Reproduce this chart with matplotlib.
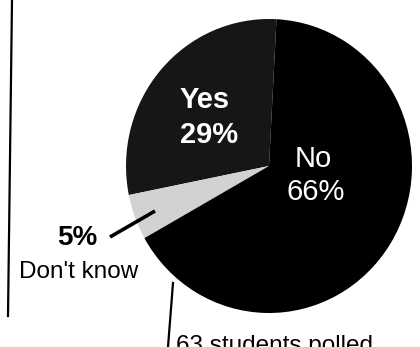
import matplotlib
matplotlib.use("Agg")
import matplotlib.pyplot as plt

plt.rcParams['font.family'] = ['Liberation Sans', 'DejaVu Sans']

# survey answers (percent)
labels = ['Yes', "Don't know", 'No']
shares = [29, 5, 66]
colors = ['#161616', '#d2d2d2', '#000000']
note = '63 students polled'

W, H = 420, 347
fig = plt.figure(figsize=(W / 100, H / 100), dpi=100)

# pie sits in its own axes, sized to the (slightly oval) disc
ax = fig.add_axes([126 / W, 1 - 313 / H, 286 / W, 294 / H])
ax.pie(shares, colors=colors, startangle=87, counterclock=True,
       wedgeprops=dict(linewidth=0))
ax.set_aspect('auto')
ax.set_xlim(-1, 1)
ax.set_ylim(-1, 1)
ax.axis('off')

# overlay in pixel coords for labels and rules
ov = fig.add_axes([0, 0, 1, 1])
ov.set_xlim(0, W)
ov.set_ylim(H, 0)
ov.axis('off')
ov.patch.set_alpha(0)

ov.plot([12, 8], [0, 316], color='black', lw=1.6)
ov.plot([110, 155], [237, 211], color='black', lw=2.6, solid_capstyle='butt')
ov.plot([168, 173], [347, 283], color='black', lw=1.6)

ov.text(180, 108, labels[0], color='white', fontsize=21, fontweight='bold', va='baseline')
ov.text(180, 143, f'{shares[0]}%', color='white', fontsize=21, fontweight='bold', va='baseline')
ov.text(295, 167, labels[2], color='white', fontsize=21, va='baseline')
ov.text(287, 200, f'{shares[2]}%', color='white', fontsize=21, va='baseline')
ov.text(57, 245, f'{shares[1]}%', color='black', fontsize=20, fontweight='bold', va='baseline')
ov.text(19, 278, labels[1], color='black', fontsize=17.5, va='baseline')
# footnote runs off the bottom edge, as in the original clipping
ov.text(176, 352, note, color='black', fontsize=17.5, va='baseline')

fig.savefig('out.png', dpi=100)
